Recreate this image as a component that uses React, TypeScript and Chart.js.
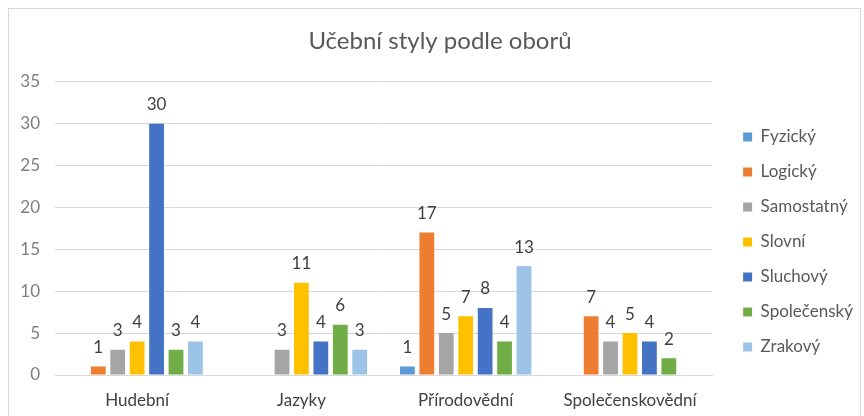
import React, { useEffect, useRef } from "react";
import { Chart, registerables } from "chart.js";

Chart.register(...registerables);

const categories = ["Hudební", "Jazyky", "Přírodovědní", "Společenskovědní"];
const seriesNames = ["Fyzický", "Logický", "Samostatný", "Slovní", "Sluchový", "Společenský", "Zrakový"];
const fyzicky = [null, null, 1, null];
const logicky = [1, null, 17, 7];
const samostatny = [3, 3, 5, 4];
const slovni = [4, 11, 7, 5];
const sluchovy = [30, 4, 8, 4];
const spolecensky = [3, 6, 4, 2];
const zrakovy = [4, 3, 13, null];
const seriesValues = [fyzicky, logicky, samostatny, slovni, sluchovy, spolecensky, zrakovy];
const seriesColors = ["#5B9BD5", "#ED7D31", "#A5A5A5", "#FFC000", "#4472C4", "#70AD47", "#9DC3E6"];
const yMin = 0;
const yMax = 35;
const yStep = 5;
const titleText = "Učební styly podle oborů";

const FONT = "Lato";

const valueLabels = {
  id: "valueLabels",
  afterDatasetsDraw(chart: any) {
    const ctx = chart.ctx;
    ctx.save();
    ctx.font = `17px ${FONT}`;
    ctx.fillStyle = "#404040";
    ctx.textAlign = "center";
    ctx.textBaseline = "middle";
    chart.data.datasets.forEach((ds: any, i: number) => {
      const meta = chart.getDatasetMeta(i);
      meta.data.forEach((el: any, j: number) => {
        const v = ds.data[j];
        if (v == null) return;
        ctx.fillText(String(v), el.x, el.y - 19);
      });
    });
    ctx.restore();
  },
};

export default function App() {
  const ref = useRef<HTMLCanvasElement | null>(null);
  useEffect(() => {
    if (!ref.current) return;
    const chart = new Chart(ref.current, {
      type: "bar",
      data: {
        labels: categories,
        datasets: seriesNames.map((name, i) => ({
          label: name,
          data: seriesValues[i],
          backgroundColor: seriesColors[i],
          borderWidth: 0,
          categoryPercentage: 0.828,
          barPercentage: 0.76,
        })),
      },
      options: {
        responsive: false,
        animation: false,
        layout: { padding: { left: 8, right: -3, top: 0, bottom: 0 } },
        plugins: {
          title: {
            display: true,
            text: titleText,
            color: "#595959",
            font: { family: FONT, size: 24, weight: "normal" },
            padding: { top: 18, bottom: 26 },
          },
          legend: {
            position: "right",
            align: "center",
            labels: {
              boxWidth: 9,
              boxHeight: 9,
              padding: 18,
              color: "#595959",
              font: { family: FONT, size: 17 },
            },
          },
          tooltip: { enabled: false },
        },
        scales: {
          x: {
            grid: { display: false },
            border: { display: true, color: "#d9d9d9" },
            ticks: { color: "#404040", font: { family: FONT, size: 17 }, padding: 7 },
            afterFit: (s: any) => {
              s.height = 100;
            },
          },
          y: {
            min: yMin,
            max: yMax,
            ticks: { stepSize: yStep, color: "#7f7f7f", font: { family: FONT, size: 17 }, padding: 15 },
            grid: { color: "#d9d9d9", drawTicks: false },
            border: { display: false },
            afterFit: (s: any) => {
              s.width = 38;
            },
          },
          yR: {
            position: "right",
            display: true,
            grid: { display: false },
            border: { display: false },
            ticks: { display: false },
            afterFit: (s: any) => {
              s.width = 13;
            },
          },
        },
      },
      plugins: [valueLabels],
    });
    return () => chart.destroy();
  }, []);
  return (
    <div
      style={{
        position: "fixed",
        left: 8,
        top: 8,
        width: 853,
        height: 468,
        border: "1px solid #d9d9d9",
        boxSizing: "border-box",
        background: "#fff",
      }}
    >
      <canvas ref={ref} width={851} height={466} style={{ display: "block" }} />
    </div>
  );
}
